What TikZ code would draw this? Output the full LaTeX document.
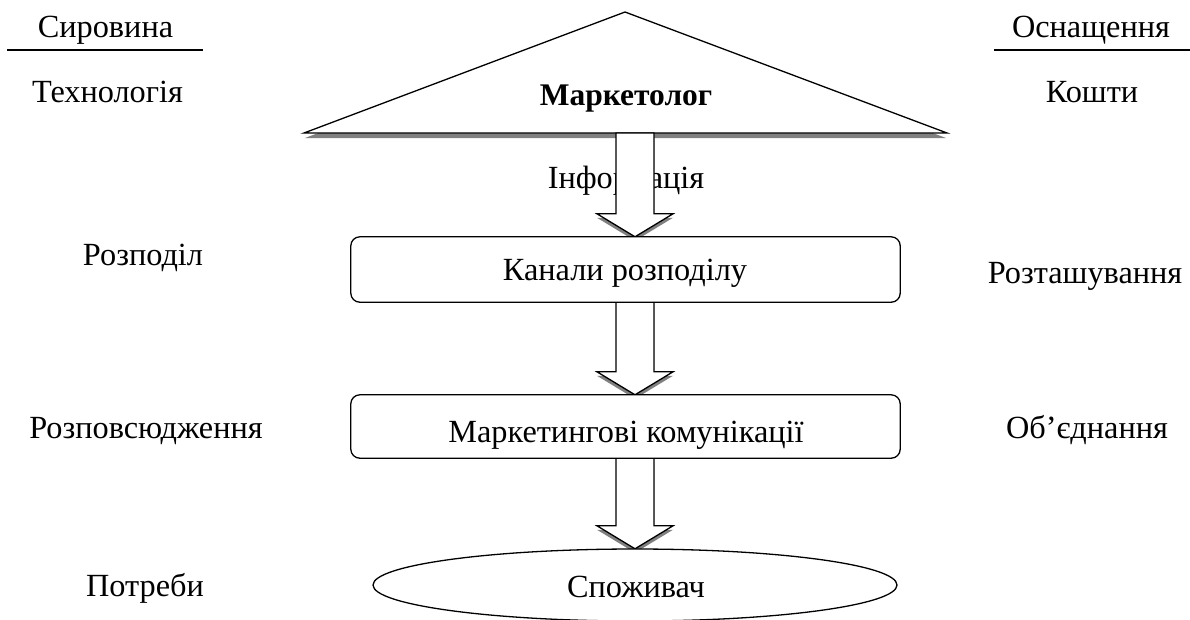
\documentclass[tikz,border=0pt]{standalone}
\usepackage{fontspec}
\setmainfont{Liberation Serif}
\usetikzlibrary{calc,shapes.geometric}
\tikzset{
  x=1pt,y=1pt,
  lbl/.style={anchor=base,inner sep=0pt,font=\fontsize{32.3}{37}\selectfont},
  boxnode/.style={inner sep=0pt,minimum width=549pt},
  shade/.style={fill=black!50,draw=none},
  barrow/.style={draw,line width=1.3pt,fill=white},
  boxline/.style={draw,line width=1.3pt,fill=white,rounded corners=9pt},
  uline/.style={line width=1.8pt},
}
% block arrow path from #1 (top centre) to #2 (tip), shifted down by #3
\newcommand{\blockpath}[3]{%
  ($(#1)+(-19,-#3)$) -- ($(#2)+(-19,23-#3)$) -- ($(#2)+(-38,23-#3)$) -- ($(#2)+(0,-#3)$) -- ($(#2)+(38,23-#3)$) -- ($(#2)+(19,23-#3)$) -- ($(#1)+(19,-#3)$) -- cycle}
\newcommand{\blockarrow}[2]{%
  \fill[shade] \blockpath{#1}{#2}{4};
  \draw[barrow] \blockpath{#1}{#2}{0};
}
\begin{document}
\begin{tikzpicture}
\useasboundingbox (0,0) rectangle (1190,-619);
% side labels
\node[lbl] (syr) at (105.5,-37) {Сировина};
\draw[uline] (7,-50) coordinate (ul1a) -- (203,-50) coordinate (ul1b);
\node[lbl] (tech) at (107.5,-102) {Технологія};
\node[lbl] (osn) at (1091,-37) {Оснащення};
\draw[uline] (994,-50) coordinate (ul2a) -- (1190,-50) coordinate (ul2b);
\node[lbl] (kosh) at (1092,-102) {Кошти};
\node[lbl] (rozp) at (143,-265) {Розподіл};
\node[lbl] (rozt) at (1085,-283) {Розташування};
\node[lbl] (rozpov) at (146,-438) {Розповсюдження};
\node[lbl] (obed) at (1087,-438) {Об’єднання};
\node[lbl] (potr) at (145,-596) {Потреби};
\node[lbl] (info) at (626,-188) {Інформація};
% triangle
\coordinate (tl) at (304,-133);
\coordinate (tr) at (947,-133);
\coordinate (tt) at (625,-12);
\fill[shade] ($(tl)+(1,-5)$) -- ($(tt)+(0,-5)$) -- ($(tr)+(-1,-5)$) -- cycle;
\draw[line width=1.3pt,fill=white] (tl) -- (tt) -- (tr) -- cycle;
\node[lbl,font=\fontsize{31.5}{36}\selectfont\bfseries] (mark) at (626,-105) {Маркетолог};
% geometry of boxes and ellipse
\coordinate (ax) at (635,0);
\node[boxnode,minimum height=65pt] (kan) at (625.5,-269.5) {};
\node[boxnode,minimum height=63pt] (mk) at (625.5,-426.5) {};
\node[ellipse,inner sep=0pt,minimum width=524pt,minimum height=72pt] (spoz) at (635,-585) {};
% arrows
\coordinate (a1s) at (ax |- tl);
\coordinate (a1e) at (ax |- kan.north);
\coordinate (a2s) at (ax |- kan.south);
\coordinate (a2e) at (ax |- mk.north);
\coordinate (a3s) at (ax |- mk.south);
\coordinate (a3e) at (ax |- spoz.north);
\blockarrow{a1s}{a1e}
\blockarrow{a2s}{a2e}
\blockarrow{a3s}{a3e}
% shapes drawn over the arrow tips
\path[boxline] (kan.south west) rectangle (kan.north east);
\path[boxline] (mk.south west) rectangle (mk.north east);
\draw[line width=1.3pt,fill=white] (spoz.center) ellipse [x radius=262, y radius=36];
\node[lbl] (kant) at (625,-280) {Канали розподілу};
\node[lbl] (mkt) at (626,-442) {Маркетингові комунікації};
\node[lbl] (spozt) at (636,-597) {Споживач};
\end{tikzpicture}
\end{document}
